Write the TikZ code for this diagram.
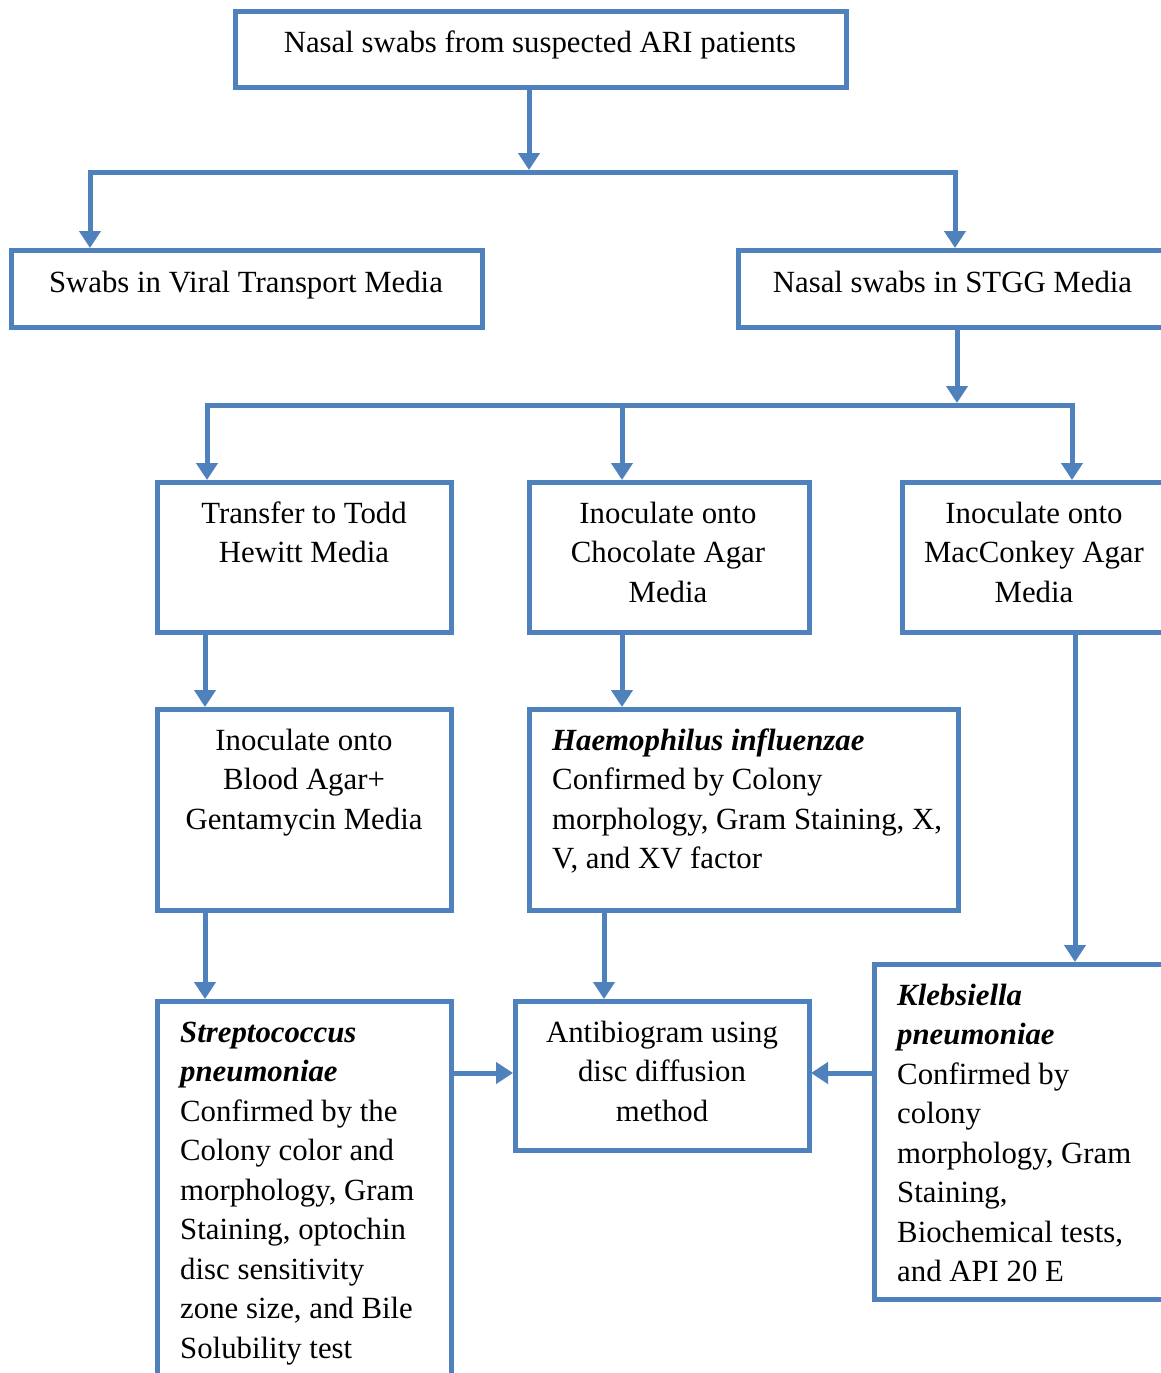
\documentclass[tikz,border=0pt]{standalone}
\usepackage{fontspec}
\setmainfont{Liberation Serif}
\usetikzlibrary{arrows.meta}
\definecolor{flowblue}{HTML}{4F81BD}

\tikzset{
  box/.style={draw=flowblue, line width=5pt, rectangle, inner sep=0pt, outer sep=0pt},
  tip/.tip={Triangle[width=21pt,length=17pt]},
  flow/.style={draw=flowblue, line width=5pt, -tip, shorten >=2pt},
  fork/.style={draw=flowblue, line width=5pt, tip-tip, shorten >=2pt, shorten <=2pt, line join=miter},
  txt/.style={font=\fontsize{30.8}{39.5}\selectfont, inner sep=0pt, anchor=base},
  ctxt/.style={txt, align=center},
  ltxt/.style={txt, align=left, anchor=base west},
}
\newcommand{\species}[1]{\textbf{\textit{#1}}}

\begin{document}
\begin{tikzpicture}[x=1pt,y=-1pt]
\useasboundingbox (0,0) rectangle (1161,1373);
\clip (0,0) rectangle (1161,1373);

% boxes
\node[box, minimum width=611pt, minimum height=76pt] (top)   at (540.5,49) {};
\node[box, minimum width=471pt, minimum height=77pt] (vtm)   at (246.5,288.5) {};
\node[box, minimum width=462pt, minimum height=77pt] (stgg)  at (969,288.5) {};
\node[box, minimum width=294pt, minimum height=150pt] (todd) at (304,557) {};
\node[box, minimum width=280pt, minimum height=150pt] (choc) at (669,557) {};
\node[box, minimum width=298pt, minimum height=150pt] (mac)  at (1051,557) {};
\node[box, minimum width=294pt, minimum height=201pt] (blood) at (304,809.5) {};
\node[box, minimum width=429pt, minimum height=201pt] (haem)  at (743.5,809.5) {};
\node[box, minimum width=326pt, minimum height=335pt] (kleb)  at (1037,1131.5) {};
\node[box, minimum width=294pt, minimum height=419pt] (strep) at (304,1210.5) {};
\node[box, minimum width=294pt, minimum height=149pt] (anti)  at (662,1075.5) {};

% texts (each placed by the baseline of its last line)
\node[ctxt] (t-top) at (540,52) {Nasal swabs from suspected ARI patients};
\node[ctxt] (t-vtm) at (246,292) {Swabs in Viral Transport Media};
\node[ctxt] (t-stgg) at (952.5,292) {Nasal swabs in STGG Media};
\node[ctxt] (t-todd) at (304,562.5) {Transfer to Todd\\Hewitt Media};
\node[ctxt] (t-choc) at (668,602) {Inoculate onto\\Chocolate Agar\\Media};
\node[ctxt] (t-mac) at (1034,602) {Inoculate onto\\MacConkey Agar\\Media};
\node[ctxt] (t-blood) at (304,829) {Inoculate onto\\Blood Agar+\\Gentamycin Media};
\node[ltxt] (t-haem) at (552,868.5) {\species{Haemophilus influenzae}\\Confirmed by Colony\\morphology, Gram Staining, X,\\V, and XV factor};
\node[ctxt] (t-anti) at (662,1121) {Antibiogram using\\disc diffusion\\method};
\node[ltxt] (t-strep) at (180,1358) {\species{Streptococcus}\\\species{pneumoniae}\\Confirmed by the\\Colony color and\\morphology, Gram\\Staining, optochin\\disc sensitivity\\zone size, and Bile\\Solubility test};
\node[ltxt] (t-kleb) at (897,1281.5) {\species{Klebsiella}\\\species{pneumoniae}\\Confirmed by\\colony\\morphology, Gram\\Staining,\\Biochemical tests,\\and API 20 E};

% first split
\coordinate (b1in) at (529,172);
\coordinate (b1L) at (90,172);
\coordinate (b1R) at (955,172);
\draw[flow] (top.south -| b1in) -- (b1in);
\draw[fork] (vtm.north -| b1L) -- (b1L) -- (b1R) -- (stgg.north -| b1R);

% second split
\coordinate (b2in) at (957,405);
\coordinate (b2L) at (207,405);
\coordinate (b2M) at (622,405);
\coordinate (b2R) at (1072,405);
\draw[flow] (stgg.south -| b2in) -- (b2in);
\draw[fork] (todd.north -| b2L) -- (b2L) -- (b2R) -- (mac.north -| b2R);
\draw[flow] (b2M) -- (choc.north -| b2M);

% vertical steps
\draw[flow] ([xshift=-99pt]todd.south) -- ([xshift=-99pt]blood.north);
\draw[flow] ([xshift=-47pt]choc.south) -- ([xshift=-121.5pt]haem.north);
\draw[flow] ([xshift=24pt]mac.south) -- ([xshift=38pt]kleb.north);
\draw[flow] ([xshift=-99pt]blood.south) -- ([xshift=-99pt]strep.north);
\draw[flow] ([xshift=-139.5pt]haem.south) -- ([xshift=-58pt]anti.north);

% into the antibiogram
\draw[flow] ([yshift=2.5pt]strep.east |- anti.west) -- ([yshift=2.5pt]anti.west);
\draw[flow] ([yshift=2.5pt]kleb.west |- anti.east) -- ([yshift=2.5pt]anti.east);
\end{tikzpicture}
\end{document}
